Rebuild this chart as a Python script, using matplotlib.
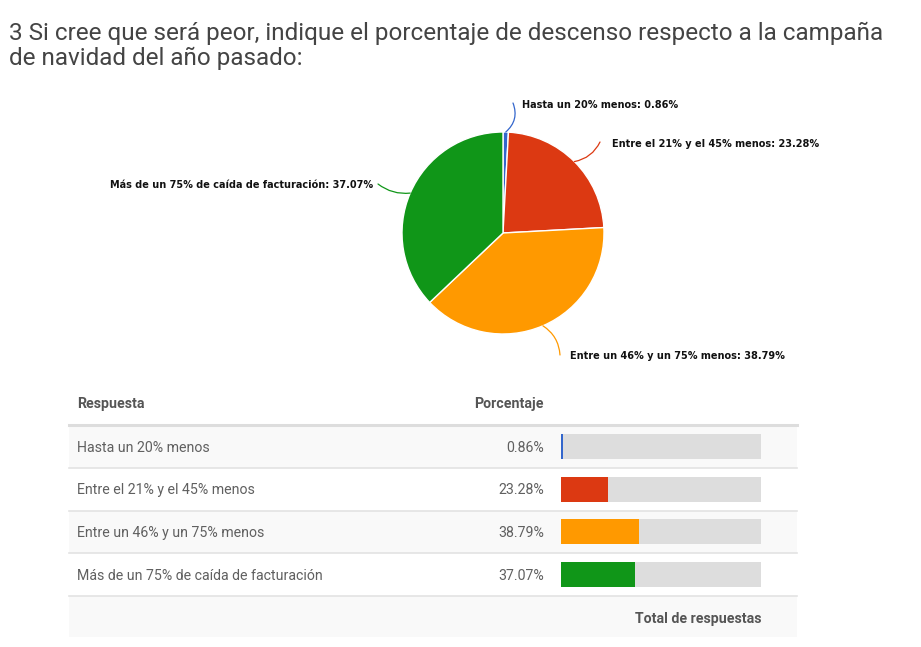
import matplotlib
matplotlib.use("Agg")
import matplotlib.pyplot as plt
from matplotlib.patches import Rectangle
import numpy as np

# ---- data ----
categories = ["Hasta un 20% menos", "Entre el 21% y el 45% menos",
              "Entre un 46% y un 75% menos", "Más de un 75% de caída de facturación"]
values = [0.86, 23.28, 38.79, 37.07]
colors = ["#3366cc", "#dc3912", "#ff9900", "#109618"]
title = "3 Si cree que será peor, indique el porcentaje de descenso respecto a la campaña\nde navidad del año pasado:"
col_headers = ["Respuesta", "Porcentaje"]
footer = "Total de respuestas"

W, H = 921, 647
fig = plt.figure(figsize=(W / 100, H / 100), dpi=100)
fig.patch.set_facecolor("white")

# overlay axes in pixel coordinates
ax = fig.add_axes([0, 0, 1, 1])
ax.set_xlim(0, W)
ax.set_ylim(H, 0)
ax.axis("off")

ax.text(9, 65, title, fontsize=17.45, family="Roboto", color="#444444",
        ha="left", va="baseline", linespacing=1.1)

# table layout
tx0, tx1 = 69, 797
row_top = 425
row_h = 42.75
n = len(categories)
fs = 10.2
for i in range(n):
    y0 = row_top + i * row_h
    if i % 2 == 0:
        ax.add_patch(Rectangle((tx0, y0), tx1 - tx0, row_h, facecolor="#f9f9f9", edgecolor="none", zorder=0))
    ax.plot([tx0, tx1], [y0 + row_h, y0 + row_h], color="#e3e3e3", lw=1.2, zorder=1)
    yc = y0 + row_h / 2 + 1.2
    ax.text(77, yc, categories[i], fontsize=fs, family="Roboto", color="#606060", ha="left", va="center")
    ax.text(544, yc, f"{values[i]:.2f}%", fontsize=fs, family="Roboto", color="#606060", ha="right", va="center")
# footer
fy0 = row_top + n * row_h
ax.add_patch(Rectangle((tx0, fy0), tx1 - tx0, 41, facecolor="#f9f9f9", edgecolor="none", zorder=0))
ax.text(761, fy0 + 22.5, footer, fontsize=fs, family="Roboto", weight="bold", color="#555555", ha="right", va="center")
# header
ax.plot([tx0, tx1], [row_top, row_top], color="#dddddd", lw=2.2, zorder=1)
ax.text(77, 404, col_headers[0], fontsize=fs, family="Roboto", weight="bold", color="#555555", ha="left", va="center")
ax.text(544, 404, col_headers[1], fontsize=fs, family="Roboto", weight="bold", color="#555555", ha="right", va="center")

# bars axes
bx0, bw = 561, 200
bax = fig.add_axes([bx0 / W, (H - fy0) / H, bw / W, (n * row_h) / H])
bax.set_xlim(0, 100)
bax.set_ylim(n - 0.5, -0.5)
bax.axis("off")
bax.patch.set_alpha(0)
ypos = np.arange(n)
bh = 25 / row_h
bax.barh(ypos, [100] * n, height=bh, color="#dddddd", zorder=1)
bax.barh(ypos, values, height=bh, color=colors, zorder=2)

# pie axes
cx, cy, r = 503, 233, 101
pax = fig.add_axes([(cx - r) / W, (H - cy - r) / H, 2 * r / W, 2 * r / H])
wedges, _ = pax.pie(values, colors=colors, startangle=90, counterclock=False, radius=1,
                    wedgeprops=dict(edgecolor="white", linewidth=1.0))
pax.set_xlim(-1, 1)
pax.set_ylim(-1, 1)
pax.axis("off")

# label positions (pie units), leader end points
def px(x, y):
    return ((x - cx) / r, (cy - y) / r)

label_specs = [
    (px(513, 103), px(522, 105), "left", 0.35),
    (px(600, 142), px(612, 144), "left", 0.25),
    (px(560, 355), px(570, 356), "left", -0.25),
    (px(378, 184), px(373, 185), "right", -0.2),
]
cum = np.cumsum([0] + values)
for i, (lend, tpos, ha, rad) in enumerate(label_specs):
    mid = np.deg2rad(90 - (cum[i] + values[i] / 2) * 3.6)
    edge = (np.cos(mid), np.sin(mid))
    pax.annotate("", xy=lend, xytext=edge, annotation_clip=False,
                 arrowprops=dict(arrowstyle="-", color=colors[i], lw=0.9,
                                 connectionstyle=f"arc3,rad={rad}", shrinkA=0, shrinkB=0))
    pax.text(tpos[0], tpos[1], f"{categories[i]}: {values[i]:.2f}%", fontsize=7,
             family="DejaVu Sans", weight="bold", color="#111111", ha=ha, va="center", clip_on=False)

fig.savefig("out.png", dpi=100, facecolor="white")
